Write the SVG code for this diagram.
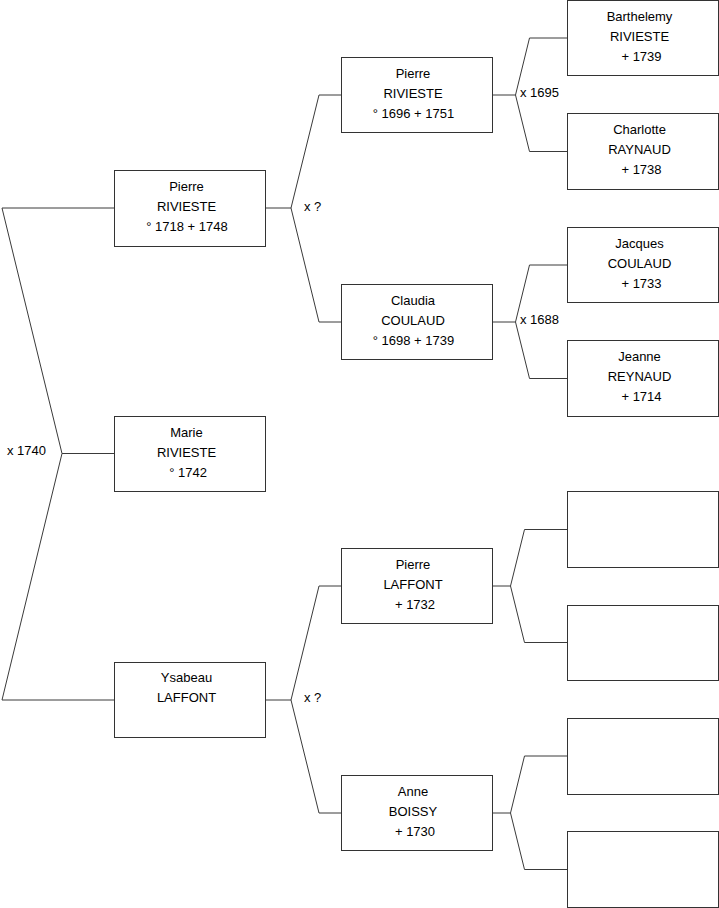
<svg xmlns="http://www.w3.org/2000/svg" width="719" height="908" viewBox="0 0 719 908">
<style>
.box{fill:#fff;stroke:#333;stroke-width:1}
.ln{fill:none;stroke:#3a3a3a;stroke-width:1}
text{font-family:"Liberation Sans",Arial,sans-serif;font-size:13px;fill:#000}
.c{text-anchor:middle}
</style>
<rect width="719" height="908" fill="#fff"/>
<g id="connectors">
<polyline class="ln" points="114,208 2,208 62,453.5 2,700 114,700"/>
<line class="ln" x1="62" y1="453.5" x2="114" y2="453.5"/>
<polyline class="ln" points="341,95 319,95 291,208 319,322 341,322"/>
<line class="ln" x1="265" y1="208" x2="291" y2="208"/>
<polyline class="ln" points="341,586 319,586 291,700 319,813 341,813"/>
<line class="ln" x1="265" y1="700" x2="291" y2="700"/>
<polyline class="ln" points="567,38 529.5,38 515.5,95 529.5,151.5 567,151.5"/>
<line class="ln" x1="492" y1="95" x2="515.5" y2="95"/>
<polyline class="ln" points="567,265 529.5,265 515.5,322 529.5,378.5 567,378.5"/>
<line class="ln" x1="492" y1="322" x2="515.5" y2="322"/>
<polyline class="ln" points="567,529.5 524.5,529.5 510.5,586 524.5,642.5 567,642.5"/>
<line class="ln" x1="492" y1="586" x2="510.5" y2="586"/>
<polyline class="ln" points="567,756 524.5,756 510.5,813 524.5,869.5 567,869.5"/>
<line class="ln" x1="492" y1="813" x2="510.5" y2="813"/>
<text x="7" y="455">x 1740</text>
<text x="304" y="211">x ?</text>
<text x="304" y="702">x ?</text>
<text x="520" y="97">x 1695</text>
<text x="520" y="324">x 1688</text>
</g>
<g id="n_pierre_rivieste_1718">
<rect class="box" x="114.5" y="170.5" width="151" height="76"/>
<text class="c" x="186.5" y="191">Pierre</text>
<text class="c" x="186.5" y="211">RIVIESTE</text>
<text class="c" x="187" y="231">° 1718 + 1748</text>
</g>
<g id="n_marie">
<rect class="box" x="114.5" y="416.5" width="151" height="75"/>
<text class="c" x="186.5" y="437">Marie</text>
<text class="c" x="186.5" y="457">RIVIESTE</text>
<text class="c" x="188" y="477">° 1742</text>
</g>
<g id="n_ysabeau">
<rect class="box" x="114.5" y="662.5" width="151" height="75"/>
<text class="c" x="186.5" y="682">Ysabeau</text>
<text class="c" x="186.5" y="702">LAFFONT</text>
</g>
<g id="n_pierre_rivieste_1696">
<rect class="box" x="341.5" y="57.5" width="151" height="75"/>
<text class="c" x="413" y="78">Pierre</text>
<text class="c" x="413" y="98">RIVIESTE</text>
<text class="c" x="413.5" y="118">° 1696 + 1751</text>
</g>
<g id="n_claudia">
<rect class="box" x="341.5" y="284.5" width="151" height="75"/>
<text class="c" x="413" y="305">Claudia</text>
<text class="c" x="413" y="325">COULAUD</text>
<text class="c" x="413.5" y="345">° 1698 + 1739</text>
</g>
<g id="n_pierre_laffont">
<rect class="box" x="341.5" y="548.5" width="151" height="75"/>
<text class="c" x="413" y="569">Pierre</text>
<text class="c" x="413" y="589">LAFFONT</text>
<text class="c" x="415" y="609">+ 1732</text>
</g>
<g id="n_anne">
<rect class="box" x="341.5" y="775.5" width="151" height="75"/>
<text class="c" x="413" y="796">Anne</text>
<text class="c" x="413" y="816">BOISSY</text>
<text class="c" x="415" y="836">+ 1730</text>
</g>
<g id="n_barthelemy">
<rect class="box" x="567.5" y="0.5" width="151" height="75"/>
<text class="c" x="639.5" y="21">Barthelemy</text>
<text class="c" x="639.5" y="41">RIVIESTE</text>
<text class="c" x="641.5" y="61">+ 1739</text>
</g>
<g id="n_charlotte">
<rect class="box" x="567.5" y="113.5" width="151" height="76"/>
<text class="c" x="639.5" y="134">Charlotte</text>
<text class="c" x="639.5" y="154">RAYNAUD</text>
<text class="c" x="641.5" y="174">+ 1738</text>
</g>
<g id="n_jacques">
<rect class="box" x="567.5" y="227.5" width="151" height="75"/>
<text class="c" x="639.5" y="248">Jacques</text>
<text class="c" x="639.5" y="268">COULAUD</text>
<text class="c" x="641.5" y="288">+ 1733</text>
</g>
<g id="n_jeanne">
<rect class="box" x="567.5" y="340.5" width="151" height="76"/>
<text class="c" x="639.5" y="361">Jeanne</text>
<text class="c" x="639.5" y="381">REYNAUD</text>
<text class="c" x="641.5" y="401">+ 1714</text>
</g>
<g id="n_blank1"><rect class="box" x="567.5" y="491.5" width="151" height="76"/></g>
<g id="n_blank2"><rect class="box" x="567.5" y="605.5" width="151" height="75"/></g>
<g id="n_blank3"><rect class="box" x="567.5" y="718.5" width="151" height="76"/></g>
<g id="n_blank4"><rect class="box" x="567.5" y="831.5" width="151" height="76"/></g>
</svg>
